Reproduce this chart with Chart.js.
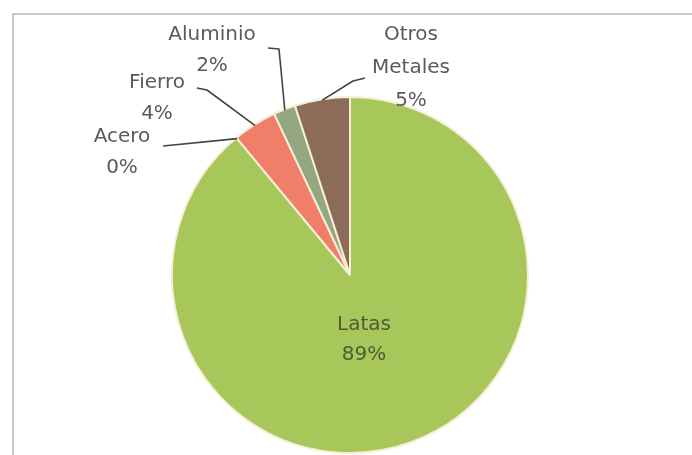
<!DOCTYPE html>
<html>
<head>
<meta charset="utf-8">
<script src="https://cdn.jsdelivr.net/npm/chart.js@4"></script>
<style>
  html, body { margin: 0; padding: 0; background: #ffffff; }
  #wrap { width: 692px; height: 455px; position: relative; }
</style>
</head>
<body>
<div id="wrap"><canvas id="c" width="692" height="455"></canvas></div>
<script>
// Composición de residuos metálicos (porcentaje)
const categorias = ['Latas', 'Acero', 'Fierro', 'Aluminio', 'Otros Metales'];
const porcentajes = [89, 0, 4, 2, 5];
const colores = ['#a8c75b', '#d9c9a0', '#f07e69', '#93a781', '#8c6b58'];

// Etiquetas externas: líneas de texto, centro del bloque y recorrido de la guía
const etiquetasExternas = {
  'Acero':         { lines: ['Acero', '0%'],              x: 122, y: 137, path: [[163, 146]] },
  'Fierro':        { lines: ['Fierro', '4%'],             x: 157, y: 83,  path: [[197, 88], [207, 90]] },
  'Aluminio':      { lines: ['Aluminio', '2%'],           x: 212, y: 35,  path: [[268, 48], [279, 49]] },
  'Otros Metales': { lines: ['Otros', 'Metales', '5%'],   x: 411, y: 35,  path: [[365, 78], [353, 81]] }
};

const FUENTE = '"DejaVu Sans", "Liberation Sans", sans-serif';

const marcoPlugin = {
  id: 'marco',
  beforeDraw(chart) {
    const ctx = chart.ctx;
    ctx.save();
    ctx.strokeStyle = '#c9c9c9';
    ctx.lineWidth = 2;
    ctx.beginPath();
    ctx.moveTo(13, 455);
    ctx.lineTo(13, 14);
    ctx.lineTo(692, 14);
    ctx.stroke();
    ctx.restore();
  }
};

const etiquetasPlugin = {
  id: 'etiquetas',
  afterDatasetsDraw(chart) {
    const ctx = chart.ctx;
    const meta = chart.getDatasetMeta(0);
    const labels = chart.data.labels;
    ctx.save();
    meta.data.forEach((arc, i) => {
      const name = labels[i];
      const val = chart.data.datasets[0].data[i];
      const p = arc.getProps(['x', 'y', 'startAngle', 'endAngle', 'outerRadius'], true);
      const mid = (p.startAngle + p.endAngle) / 2;
      const cfg = etiquetasExternas[name];
      ctx.font = '20px ' + FUENTE;
      ctx.textAlign = 'center';
      ctx.textBaseline = 'middle';
      if (cfg) {
        // guía desde el texto hasta el borde del sector
        const ex = p.x + Math.cos(mid) * (p.outerRadius - 1);
        const ey = p.y + Math.sin(mid) * (p.outerRadius - 1);
        ctx.strokeStyle = '#444444';
        ctx.lineWidth = 1.6;
        ctx.lineJoin = 'round';
        ctx.beginPath();
        ctx.moveTo(cfg.path[0][0], cfg.path[0][1]);
        for (let k = 1; k < cfg.path.length; k++) ctx.lineTo(cfg.path[k][0], cfg.path[k][1]);
        ctx.lineTo(ex, ey);
        ctx.stroke();
        // texto
        ctx.fillStyle = '#5a5a5a';
        const lh = cfg.lines.length === 3 ? 33 : 31;
        cfg.lines.forEach((t, j) => {
          const txt = (j === cfg.lines.length - 1) ? Math.round(val) + '%' : t;
          ctx.fillText(txt, cfg.x, cfg.y + j * lh);
        });
      } else {
        // etiqueta interior, bajo el centro del gráfico
        const cx = p.x + 14;
        const cy = p.y + 65;
        ctx.fillStyle = '#4d5c33';
        ctx.fillText(name, cx, cy - 15);
        ctx.fillText(Math.round(val) + '%', cx, cy + 15);
      }
    });
    ctx.restore();
  }
};

new Chart(document.getElementById('c'), {
  type: 'pie',
  data: {
    labels: categorias,
    datasets: [{
      data: porcentajes,
      backgroundColor: colores,
      borderColor: '#f6efd6',
      borderWidth: 2,
      hoverOffset: 0
    }]
  },
  options: {
    responsive: false,
    animation: false,
    devicePixelRatio: 1,
    layout: { padding: { top: 96, bottom: 1, left: 8, right: 0 } },
    plugins: {
      legend: { display: false },
      tooltip: { enabled: false },
      title: { display: false }
    }
  },
  plugins: [marcoPlugin, etiquetasPlugin]
});
</script>
</body>
</html>
